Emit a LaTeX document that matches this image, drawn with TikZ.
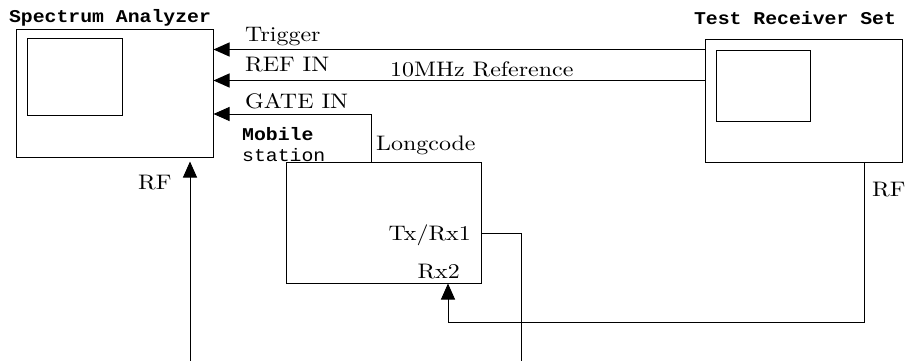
\documentclass[tikz,border=0pt]{standalone}
\usepackage{fontspec}
\newfontfamily\lblfont{lmroman10-regular.otf}[FakeStretch=1.14]
\newfontfamily\ttlfont{Liberation Mono}[FakeStretch=1.1]
\usetikzlibrary{arrows.meta,positioning}

\begin{document}
\begin{tikzpicture}[x=1pt, y=-1pt,
        box/.style={draw, rectangle, line width=1pt, inner sep=0pt},
        lbl/.style={inner sep=0pt, font=\lblfont\fontsize{21}{23}\selectfont},
        ttl/.style={inner sep=0pt, font=\ttlfont\bfseries\fontsize{18}{20}\selectfont},
        sig/.style={draw, line width=0.9pt},
        >={Triangle[length=16pt, width=14pt]}
    ]
        \useasboundingbox (0,0) rectangle (908,361);

        \node[box, minimum width=197pt, minimum height=127pt] (sa) at (114.5,93.5) {};
        \node[box, minimum width=95pt, minimum height=76pt] (sascr) at (74.5,77) {};
        \node[box, minimum width=197pt, minimum height=122pt] (trs) at (803.5,101) {};
        \node[box, minimum width=94pt, minimum height=70pt] (trsscr) at (763,86) {};
        \node[box, minimum width=195pt, minimum height=121pt] (ms) at (383.5,222.5) {};

        \node[ttl] (satitle) at (110,18) {Spectrum Analyzer};
        \node[ttl] (trstitle) at (795,18) {Test Receiver Set};

        \node[lbl, anchor=base west] (trig) at (245,42) {Trigger};
        \node[lbl, anchor=base west] (refin) at (245,72) {REF IN};
        \node[lbl, anchor=base west] (gatein) at (245,108) {GATE IN};
        \node[lbl, anchor=base west] (tenmhz) at (390,77) {10MHz Reference};
        \node[lbl, anchor=base west] (lcode) at (376,150) {Longcode};
        \node[ttl, anchor=base west] (mob) at (242,140) {Mobile};
        \node[ttl, font=\ttlfont\fontsize{18}{20}\selectfont, anchor=base west] (stat) at (242,161) {station};
        \node[lbl, anchor=base east] (txrx) at (471,240) {Tx/Rx1};
        \node[lbl, anchor=base east] (rxtwo) at (460,278) {Rx2};
        \node[lbl, anchor=base west] (rfsa) at (138,189) {RF};
        \node[lbl, anchor=base west] (rftrs) at (872,196) {RF};

        \coordinate (trgout) at ([yshift=-10pt]trs.north west);
        \coordinate (refout) at ([yshift=-41pt]trs.north west);
        \coordinate (gatein) at ([yshift=-20.5pt]sa.east);
        \coordinate (rfin) at (190,361);
        \coordinate (txend) at (521,361);

        \draw[sig, ->] (trgout) -- (trgout -| sa.east);
        \draw[sig, ->] (refout) -- (refout -| sa.east);
        \draw[sig, ->] ([xshift=-12.5pt]ms.north) |- (gatein);
        \draw[sig] ([yshift=-10.5pt]ms.east) -| (txend);
        \draw[sig, ->] ([xshift=60.5pt]trs.south) -- ++(0,160) -| ([xshift=64.5pt]ms.south);
        \draw[sig, ->, shorten >=4pt] (rfin) -- (rfin |- sa.south);
    \end{tikzpicture}
\end{document}
